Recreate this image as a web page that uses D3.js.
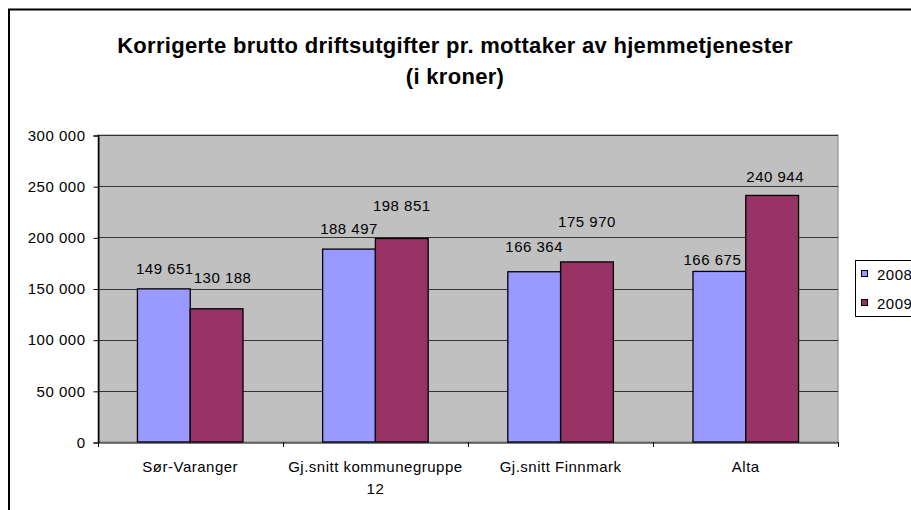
<!DOCTYPE html>
<html><head><meta charset="utf-8">
<script src="https://cdn.jsdelivr.net/npm/d3@7"></script>
<style>body{margin:0;background:#fff;}svg{display:block;font-family:Arial,"Liberation Sans",sans-serif;}</style>
</head><body><svg id="c" width="911" height="510"></svg>
<script>
const categories = ["Sør-Varanger", "Gj.snitt kommunegruppe 12", "Gj.snitt Finnmark", "Alta"];
const series = ["2008", "2009"];
const values2008 = [149651, 188497, 166364, 166675];
const values2009 = [130188, 198851, 175970, 240944];
const yTicks = [0, 50000, 100000, 150000, 200000, 250000, 300000];
const title = ["Korrigerte brutto driftsutgifter pr. mottaker av hjemmetjenester", "(i kroner)"];
// label placement tweaks (layout, px): [dx, distance above bar top]
const labelAdjust2008 = [[1, 15], [0, 15], [0, 20], [-7, 6]];
const labelAdjust2009 = [[6, 26], [0, 28], [0, 35], [3, 13]];

const colors = {"2008": "#9999FF", "2009": "#993366"};
const fmt = v => d3.format(",")(v).replace(/,/g, " ");
const FS = 15, LS = 0.5;

const svg = d3.select("#c");
// outer chart border
svg.append("rect").attr("x", 9).attr("y", 9.5).attr("width", 1000).attr("height", 600)
  .attr("fill", "#fff").attr("stroke", "#000").attr("stroke-width", 2);

// title
[0, 1].forEach(i => svg.append("text").attr("x", 455).attr("y", 53 + i * 31).attr("text-anchor", "middle")
  .attr("font-weight", "bold").attr("font-size", 22).attr("letter-spacing", 0.3).text(title[i]));

const L = 98, R = 838, T = 135, B = 442;
const x = d3.scaleBand().domain(categories).range([L, R]).paddingInner(0.43).paddingOuter(0.213);
const y = d3.scaleLinear().domain([0, 300000]).range([B, T]);
const xs = d3.scaleBand().domain(series).range([0, x.bandwidth()]);

svg.append("rect").attr("x", L).attr("y", T).attr("width", R - L).attr("height", B - T)
  .attr("fill", "#C0C0C0").attr("stroke", "#808080").attr("stroke-width", 1);

// gridlines
svg.append("g").selectAll("line").data(yTicks.filter(d => d > 0)).join("line")
  .attr("x1", L).attr("x2", R).attr("y1", d => Math.round(y(d)) + 0.5).attr("y2", d => Math.round(y(d)) + 0.5)
  .attr("stroke", "#333").attr("stroke-width", 1);

// y axis
const yAxis = d3.axisLeft(y).tickValues(yTicks).tickFormat(fmt).tickSize(5).tickPadding(8);
const gy = svg.append("g").attr("transform", `translate(${L + 0.5},0.5)`).call(yAxis);
gy.selectAll("text").attr("font-size", FS).attr("letter-spacing", LS).attr("fill", "#000")
  .attr("font-family", "Arial, 'Liberation Sans', sans-serif");
gy.selectAll("line,path").attr("stroke", "#000");

// bars
const data = [];
categories.forEach((c, i) => {
  data.push({c, s: "2008", v: values2008[i], adj: labelAdjust2008[i]});
  data.push({c, s: "2009", v: values2009[i], adj: labelAdjust2009[i]});
});
svg.append("g").selectAll("rect").data(data).join("rect")
  .attr("x", d => x(d.c) + xs(d.s)).attr("y", d => y(d.v))
  .attr("width", xs.bandwidth()).attr("height", d => B - y(d.v))
  .attr("fill", d => colors[d.s]).attr("stroke", "#000").attr("stroke-width", 1.3);

// x axis
const xAxis = d3.axisBottom(x).tickSize(0).tickFormat("");
const gx = svg.append("g").attr("transform", `translate(0,${B + 0.5})`).call(xAxis);
gx.select("path").attr("stroke", "#000");
const bounds = d3.range(categories.length + 1).map(i => L + i * (R - L) / categories.length);
svg.append("g").selectAll("line").data(bounds).join("line")
  .attr("x1", d => Math.round(d) + 0.5).attr("x2", d => Math.round(d) + 0.5)
  .attr("y1", B).attr("y2", B + 5).attr("stroke", "#000");
svg.append("line").attr("x1", L + 0.5).attr("x2", L + 0.5).attr("y1", T).attr("y2", B).attr("stroke", "#000");

// category labels
const catLines = ["Sør-Varanger", ["Gj.snitt kommunegruppe", "12"], "Gj.snitt Finnmark", "Alta"];
categories.forEach((c, i) => {
  const lines = Array.isArray(catLines[i]) ? catLines[i] : [catLines[i]];
  const cx = x(c) + x.bandwidth() / 2;
  const t = svg.append("text").attr("text-anchor", "middle").attr("font-size", FS).attr("letter-spacing", LS)
    .attr("x", cx).attr("y", 471.5);
  lines.forEach((l, k) => t.append("tspan").attr("x", cx).attr("dy", k ? 22 : 0).text(l));
});

// data labels
svg.append("g").selectAll("text").data(data).join("text")
  .attr("text-anchor", "middle").attr("font-size", FS).attr("letter-spacing", LS)
  .attr("x", d => x(d.c) + xs(d.s) + xs.bandwidth() / 2 + d.adj[0])
  .attr("y", d => y(d.v) - d.adj[1]).text(d => fmt(d.v));

// legend
const lg = svg.append("g");
lg.append("rect").attr("x", 855.5).attr("y", 260.5).attr("width", 80).attr("height", 56)
  .attr("fill", "#fff").attr("stroke", "#000");
series.forEach((s, i) => {
  const cy = 274 + i * 29;
  lg.append("rect").attr("x", 861.5).attr("y", cy - 3.5).attr("width", 6).attr("height", 6)
    .attr("fill", colors[s]).attr("stroke", "#000");
  lg.append("text").attr("x", 877).attr("y", cy + 5.5).attr("font-size", FS).attr("letter-spacing", LS).text(s);
});
</script></body></html>
